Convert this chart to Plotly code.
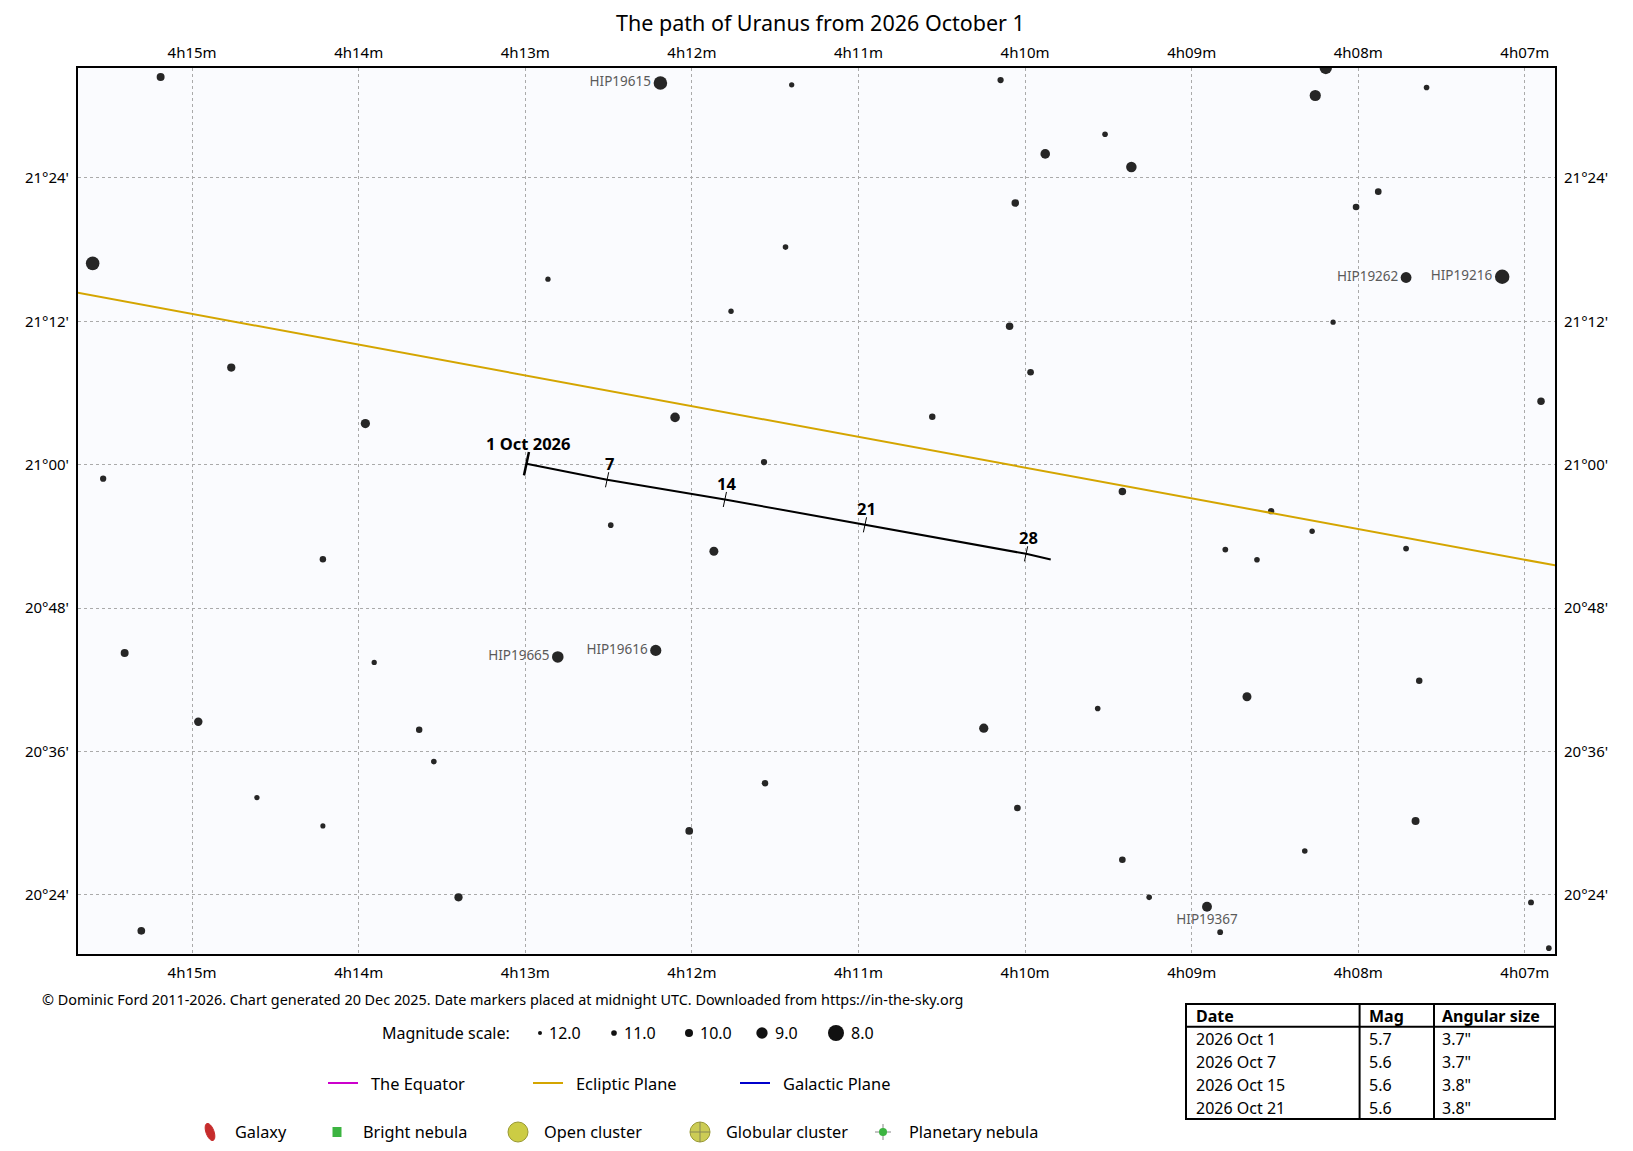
import math
import plotly.graph_objects as go

# RA in minutes past 4h, Dec in arcminutes past +20 deg, magnitude guessed from dot size
star_ra = [15.189, 11.401, 15.597, 12.864, 11.438, 14.765, 11.765, 13.960, 12.101, 11.567,
           15.534, 8.195, 10.147, 8.258, 7.590, 9.520, 9.879, 9.362, 7.880, 10.059,
           8.013, 8.151, 10.093, 9.967, 6.903, 10.557, 12.487, 11.868, 14.215, 15.405,
           13.907, 14.963, 13.637, 13.549, 11.561, 14.611, 14.215, 12.016, 13.401, 15.305,
           9.416, 8.523, 8.277, 8.798, 8.608, 7.713, 7.634, 8.668, 9.564, 10.248,
           10.046, 7.656, 8.321, 9.416, 9.255, 8.829, 6.963, 6.856]
star_dec = [92.44, 91.79, 76.85, 75.53, 78.21, 68.13, 72.85, 63.44, 63.96, 60.22,
            58.83, 93.20, 92.19, 90.90, 91.57, 87.66, 86.01, 84.92, 82.85, 81.90,
            81.57, 71.93, 71.59, 67.74, 65.31, 64.02, 54.94, 52.76, 52.09, 44.24,
            43.45, 38.48, 37.81, 35.15, 33.34, 32.14, 29.77, 29.35, 23.79, 20.99,
            57.76, 56.11, 54.43, 52.90, 52.04, 52.98, 41.92, 40.58, 39.60, 37.95,
            31.27, 30.18, 27.67, 26.94, 23.79, 20.88, 23.37, 19.54]
star_mag = [10.4, 11.8, 8.7, 11.8, 11.6, 10.3, 11.7, 9.9, 9.8, 11.2,
            11.2, 9.0, 11.2, 9.3, 11.6, 11.6, 9.8, 9.5, 11.0, 10.6,
            11.0, 11.8, 10.6, 11.0, 10.6, 11.1, 11.6, 10.0, 11.1, 10.4,
            11.8, 10.2, 11.1, 11.6, 11.1, 11.8, 11.9, 10.5, 10.3, 10.5,
            10.6, 11.2, 11.7, 11.5, 11.6, 11.5, 11.1, 10.0, 11.6, 9.9,
            11.0, 10.4, 11.6, 11.0, 11.6, 11.5, 11.4, 11.6]

hip_name = ["HIP19615", "HIP19262", "HIP19216", "HIP19665", "HIP19616", "HIP19367"]
hip_ra = [12.189, 7.713, 7.136, 12.805, 12.217, 8.908]
hip_dec = [91.94, 75.67, 75.73, 43.91, 44.46, 23.00]
hip_mag = [8.7, 9.4, 8.5, 9.2, 9.3, 9.7]

# path of Uranus, date markers at midnight UTC (last point = end of path)
path_ra = [12.993, 12.509, 11.802, 10.961, 9.994, 9.846]
path_dec = [60.08, 58.74, 57.09, 54.97, 52.54, 52.06]
path_label = ["1 Oct 2026", "7", "14", "21", "28"]

ecliptic_ra = [15.80, 6.70]
ecliptic_dec = [74.68, 51.27]

ra_ticks = [15, 14, 13, 12, 11, 10, 9, 8, 7]
ra_ticktext = ["4h15m", "4h14m", "4h13m", "4h12m", "4h11m", "4h10m", "4h09m", "4h08m", "4h07m"]
dec_ticks = [24, 36, 48, 60, 72, 84]
dec_ticktext = ["20°24'", "20°36'", "20°48'", "21°00'", "21°12'", "21°24'"]

mag_scale = [12.0, 11.0, 10.0, 9.0, 8.0]

table_date = ["2026 Oct 1", "2026 Oct 7", "2026 Oct 15", "2026 Oct 21"]
table_mag = ["5.7", "5.6", "5.6", "5.6"]
table_size = ['3.7"', '3.7"', '3.8"', '3.8"']

FONT = "Noto Sans"
W, H = 1633, 1151
L, R, T, B = 78, 1555, 68, 954


def dot_size(m):
    return 4 * 2 ** ((12 - m) / 2)


def paper(x, y):
    return (x - L) / (R - L), (B - y) / (B - T)


def label(x, y, text, size=15, anchor="left", color="black", bold=False):
    px_, py_ = paper(x, y)
    if bold:
        text = "<b>" + text + "</b>"
    fig.add_annotation(x=px_, y=py_, xref="paper", yref="paper", text=text, showarrow=False,
                       xanchor=anchor, yanchor="middle", font=dict(family=FONT, size=size, color=color))


def circle(x, y, r, fill, line_color=None, line_width=0):
    px_, py_ = paper(x, y)
    fig.add_shape(type="circle", xref="paper", yref="paper", xsizemode="pixel", ysizemode="pixel",
                  xanchor=px_, yanchor=py_, x0=-r, x1=r, y0=-r, y1=r, fillcolor=fill,
                  line=dict(color=line_color or fill, width=line_width))


def hline(x0, x1, y, color, width=1):
    a = paper(x0, y)
    b = paper(x1, y)
    fig.add_shape(type="line", xref="paper", yref="paper", x0=a[0], x1=b[0], y0=a[1], y1=b[1],
                  line=dict(color=color, width=width))


def vline(x, y0, y1, color, width=1):
    a = paper(x, y0)
    b = paper(x, y1)
    fig.add_shape(type="line", xref="paper", yref="paper", x0=a[0], x1=b[0], y0=a[1], y1=b[1],
                  line=dict(color=color, width=width))


fig = go.Figure()

# ecliptic on the overlay axes so top/right tick labels get drawn
fig.add_trace(go.Scatter(x=ecliptic_ra, y=ecliptic_dec, xaxis="x2", yaxis="y2", mode="lines",
                         line=dict(color="#d4a500", width=2), hoverinfo="skip"))

fig.add_trace(go.Scatter(x=star_ra, y=star_dec, mode="markers",
                         marker=dict(size=[dot_size(m) + 1 for m in star_mag], color="#262626",
                                     opacity=1, line=dict(width=0))))

fig.add_trace(go.Scatter(x=hip_ra, y=hip_dec, mode="markers+text", text=hip_name,
                         textposition=["bottom center" if n == "HIP19367" else "middle left"
                                       for n in hip_name],
                         textfont=dict(family=FONT, size=13.5, color="#5a5a5a"),
                         marker=dict(size=[dot_size(m) + 1 for m in hip_mag], color="#262626",
                                     opacity=1, line=dict(width=0))))

fig.add_trace(go.Scatter(x=path_ra, y=path_dec, mode="lines",
                         line=dict(color="black", width=2), hoverinfo="skip"))
fig.add_trace(go.Scatter(x=path_ra[:1], y=path_dec[:1], mode="markers",
                         marker=dict(symbol="line-ns", size=17, angle=12,
                                     line=dict(color="black", width=2.5))))
fig.add_trace(go.Scatter(x=path_ra[1:5], y=path_dec[1:5], mode="markers",
                         marker=dict(symbol="line-ns", size=11, angle=12,
                                     line=dict(color="black", width=1))))

for i, t in enumerate(path_label):
    fig.add_annotation(x=path_ra[i], y=path_dec[i], text="<b>" + t + "</b>", showarrow=False,
                       xanchor="center", yanchor="middle", xshift=2,
                       yshift=20 if i == 0 else 16,
                       font=dict(family=FONT, size=16.5, color="black"))

grid = dict(showgrid=True, gridcolor="#aaaaaa", gridwidth=1, griddash="dot", zeroline=False)

fig.update_layout(
    width=W, height=H,
    margin=dict(l=L, r=W - R, t=T, b=H - B, pad=0),
    paper_bgcolor="white",
    plot_bgcolor="#fafbfe",
    showlegend=False,
    xaxis=dict(range=[15.685, 6.819], tickvals=ra_ticks, ticktext=ra_ticktext, ticks="",
               showline=True, linecolor="black", linewidth=2, mirror=True,
               tickfont=dict(family=FONT, size=15, color="black"), ticklabelstandoff=4, **grid),
    yaxis=dict(range=[19.05, 93.2], tickvals=dec_ticks, ticktext=dec_ticktext, ticks="",
               showline=True, linecolor="black", linewidth=2, mirror=True,
               tickfont=dict(family=FONT, size=15, color="black"), ticklabelstandoff=4, **grid),
    xaxis2=dict(range=[15.685, 6.819], overlaying="x", side="top", anchor="y",
                tickvals=ra_ticks, ticktext=ra_ticktext, ticks="", showgrid=False,
                zeroline=False, showline=False, ticklabelstandoff=6,
                tickfont=dict(family=FONT, size=15, color="black")),
    yaxis2=dict(range=[19.05, 93.2], overlaying="y", side="right", anchor="x",
                tickvals=dec_ticks, ticktext=dec_ticktext, ticks="", showgrid=False,
                zeroline=False, showline=False, ticklabelstandoff=8,
                tickfont=dict(family=FONT, size=15, color="black")),
)

label(820, 22, "The path of Uranus from 2026 October 1", size=21.5, anchor="center")

label(40, 1000, "© Dominic Ford 2011-2026. Chart generated 20 Dec 2025. Date markers placed at "
      "midnight UTC. Downloaded from https://in-the-sky.org", size=14.4)

# magnitude scale
label(380, 1033, "Magnitude scale:", size=16)
for m, x in zip(mag_scale, [540, 614, 689, 762, 836]):
    r = dot_size(m) / 2
    circle(x, 1033, r, "#111111")
    label(x + r + 5, 1033, "%.1f" % m, size=16)

# reference lines
for x, name, col in [(328, "The Equator", "#cc00cc"), (533, "Ecliptic Plane", "#d4a500"),
                     (740, "Galactic Plane", "#0000cc")]:
    hline(x, x + 30, 1083, col, 2)
    label(x + 41, 1083, name, size=16.4)

# deep sky object key
yk = 1132
gx, gy = paper(210, yk)
pts = []
for k in range(0, 360, 15):
    t = math.radians(k)
    a, b = 9 * math.cos(t), 4 * math.sin(t)
    c, s = math.cos(math.radians(20)), math.sin(math.radians(20))
    pts.append((-a * s + b * c, a * c + b * s))
path = "M" + " L".join("%.2f,%.2f" % p for p in pts) + " Z"
fig.add_shape(type="path", xref="paper", yref="paper", xsizemode="pixel", ysizemode="pixel",
              xanchor=gx, yanchor=gy, path=path, fillcolor="#c62c2c", line=dict(color="#c62c2c", width=1))
label(233, yk, "Galaxy", size=16.3)

nx, ny = paper(337, yk)
fig.add_shape(type="rect", xref="paper", yref="paper", xsizemode="pixel", ysizemode="pixel",
              xanchor=nx, yanchor=ny, x0=-4.5, x1=4.5, y0=-5, y1=5, fillcolor="#3cb441",
              line=dict(color="#3cb441", width=0))
label(361, yk, "Bright nebula", size=16.3)

circle(518, yk, 10, "#cccc44", "#999933", 1)
label(542, yk, "Open cluster", size=16.3)

circle(700, yk, 10, "#cccc55", "#999933", 1)
hline(690, 710, yk, "#888855", 1)
vline(700, yk - 10, yk + 10, "#888855", 1)
label(724, yk, "Globular cluster", size=16.3)

hline(875, 891, yk, "#888888", 1)
vline(883, yk - 8, yk + 8, "#888888", 1)
circle(883, yk, 4, "#3cb441", "#3cb441", 0)
label(907, yk, "Planetary nebula", size=16.3)

# table of Uranus data
tl, tr, tt, tb = 1186, 1555, 1004, 1119
c1, c2 = 1359.6, 1434
x0, y0 = paper(tl, tb)
x1, y1 = paper(tr, tt)
fig.add_shape(type="rect", xref="paper", yref="paper", x0=x0, x1=x1, y0=y0, y1=y1,
              line=dict(color="black", width=2), fillcolor="rgba(0,0,0,0)")
hline(tl, tr, 1026.7, "black", 2)
vline(c1, tt, tb, "black", 2)
vline(c2, tt, tb, "black", 2)
label(tl + 8, 1016, "Date", size=16, bold=True)
label(c1 + 7, 1016, "Mag", size=16, bold=True)
label(c2 + 6, 1016, "Angular size", size=16, bold=True)
for i in range(len(table_date)):
    yy = 1039.3 + i * 22.9
    label(tl + 8, yy, table_date[i], size=16)
    label(c1 + 7, yy, table_mag[i], size=16)
    label(c2 + 6, yy, table_size[i], size=16)

fig.write_html("out.html", config={"displayModeBar": False},
               post_script="document.body.style.margin='0';")
